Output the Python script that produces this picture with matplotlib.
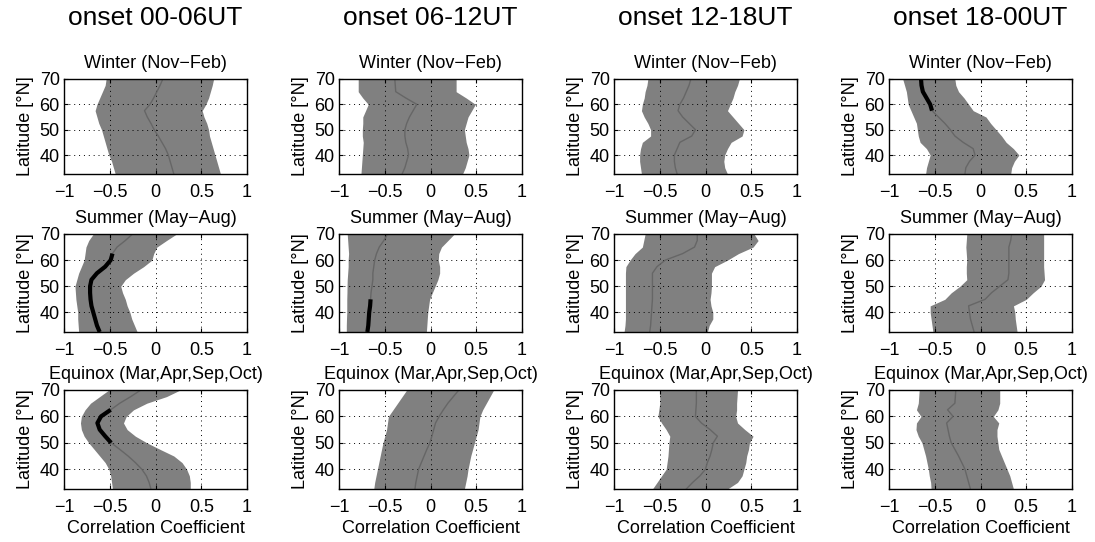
import numpy as np
from matplotlib import pyplot as plt

plt.rcParams['font.family'] = ['Liberation Sans', 'DejaVu Sans']

lat = [32.5, 35, 37.5, 40, 42.5, 45, 47.5, 50, 52.5, 55, 57.5, 60, 62.5, 65, 67.5, 70]

onsets = ['onset 00-06UT', 'onset 06-12UT', 'onset 12-18UT', 'onset 18-00UT']
seasons = ['Winter (Nov\u2212Feb)', 'Summer (May\u2212Aug)', 'Equinox (Mar,Apr,Sep,Oct)']

# winter
w0_lo = [-0.44, -0.46, -0.48, -0.51, -0.53, -0.55, -0.57, -0.59, -0.62, -0.64, -0.66, -0.64, -0.61, -0.58, -0.55, -0.54]
w0_md = [0.2, 0.18, 0.16, 0.14, 0.11, 0.07, 0.03, -0.015, -0.05, -0.09, -0.12, -0.06, -0.02, 0.015, 0.05, 0.08]
w0_hi = [0.71, 0.69, 0.67, 0.65, 0.63, 0.61, 0.59, 0.58, 0.56, 0.53, 0.51, 0.55, 0.58, 0.60, 0.62, 0.635]

w1_lo = [-0.76, -0.755, -0.75, -0.745, -0.74, -0.735, -0.745, -0.745, -0.74, -0.74, -0.71, -0.68, -0.74, -0.79, -0.79, -0.79]
w1_md = [-0.31, -0.28, -0.26, -0.24, -0.25, -0.27, -0.28, -0.28, -0.26, -0.23, -0.19, -0.15, -0.27, -0.38, -0.385, -0.39]
w1_hi = [0.35, 0.38, 0.40, 0.42, 0.41, 0.39, 0.38, 0.37, 0.39, 0.41, 0.45, 0.49, 0.39, 0.28, 0.28, 0.28]

w2_lo = [-0.70, -0.71, -0.72, -0.72, -0.71, -0.69, -0.60, -0.60, -0.63, -0.67, -0.70, -0.69, -0.67, -0.66, -0.64, -0.63]
w2_md = [-0.31, -0.33, -0.34, -0.34, -0.31, -0.28, -0.15, -0.11, -0.18, -0.25, -0.30, -0.28, -0.24, -0.21, -0.18, -0.16]
w2_hi = [0.24, 0.21, 0.20, 0.21, 0.24, 0.28, 0.40, 0.42, 0.36, 0.30, 0.24, 0.27, 0.30, 0.32, 0.35, 0.37]

w3_lo = [-0.60, -0.59, -0.57, -0.55, -0.59, -0.66, -0.68, -0.69, -0.70, -0.73, -0.76, -0.79, -0.80, -0.81, -0.83, -0.85]
w3_md = [-0.17, -0.16, -0.12, -0.06, -0.08, -0.19, -0.28, -0.33, -0.39, -0.46, -0.53, -0.55, -0.59, -0.63, -0.645, -0.65]
w3_hi = [0.33, 0.34, 0.37, 0.42, 0.36, 0.28, 0.23, 0.17, 0.11, 0.06, -0.08, -0.13, -0.18, -0.24, -0.27, -0.28]

# summer
s0_lo = [-0.84, -0.845, -0.85, -0.85, -0.86, -0.87, -0.875, -0.88, -0.86, -0.84, -0.81, -0.78, -0.77, -0.76, -0.73, -0.68]
s0_md = [-0.61, -0.64, -0.66, -0.68, -0.70, -0.71, -0.715, -0.715, -0.70, -0.64, -0.55, -0.49, -0.47, -0.42, -0.33, -0.25]
s0_hi = [-0.20, -0.23, -0.26, -0.28, -0.31, -0.33, -0.36, -0.38, -0.33, -0.24, -0.13, -0.04, -0.02, 0.015, 0.12, 0.23]

s1_lo = [-0.92, -0.92, -0.918, -0.915, -0.915, -0.915, -0.913, -0.912, -0.91, -0.905, -0.9, -0.9, -0.895, -0.9, -0.905, -0.91]
s1_md = [-0.69, -0.68, -0.675, -0.67, -0.66, -0.655, -0.65, -0.64, -0.63, -0.63, -0.62, -0.61, -0.59, -0.56, -0.51, -0.47]
s1_hi = [-0.045, -0.04, -0.035, -0.03, -0.02, -0.01, 0.02, 0.05, 0.08, 0.10, 0.10, 0.085, 0.09, 0.12, 0.19, 0.26]

s2_lo = [-0.89, -0.88, -0.875, -0.875, -0.875, -0.875, -0.875, -0.875, -0.875, -0.875, -0.87, -0.825, -0.77, -0.69, -0.675, -0.66]
s2_md = [-0.61, -0.60, -0.595, -0.59, -0.585, -0.58, -0.58, -0.58, -0.58, -0.58, -0.53, -0.44, -0.25, -0.12, -0.09, -0.09]
s2_hi = [0.02, 0.04, 0.08, 0.08, 0.06, 0.05, 0.06, 0.065, 0.065, 0.065, 0.10, 0.24, 0.36, 0.52, 0.575, 0.53]

s3_lo = [-0.52, -0.53, -0.54, -0.55, -0.55, -0.39, -0.32, -0.225, -0.15, -0.155, -0.155, -0.15, -0.155, -0.16, -0.155, -0.15]
s3_md = [-0.07, -0.09, -0.11, -0.12, -0.13, 0.05, 0.12, 0.21, 0.30, 0.31, 0.31, 0.31, 0.31, 0.31, 0.33, 0.34]
s3_hi = [0.40, 0.39, 0.38, 0.375, 0.36, 0.50, 0.575, 0.66, 0.70, 0.695, 0.69, 0.69, 0.69, 0.69, 0.69, 0.69]

# equinox
e0_lo = [-0.47, -0.48, -0.49, -0.51, -0.55, -0.61, -0.67, -0.73, -0.78, -0.81, -0.82, -0.81, -0.77, -0.71, -0.61, -0.51]
e0_md = [-0.05, -0.07, -0.10, -0.15, -0.22, -0.30, -0.39, -0.485, -0.55, -0.61, -0.635, -0.595, -0.49, -0.39, -0.27, -0.16]
e0_hi = [0.38, 0.38, 0.37, 0.34, 0.29, 0.20, 0.05, -0.095, -0.22, -0.31, -0.35, -0.32, -0.24, -0.095, 0.12, 0.27]

e1_lo = [-0.62, -0.61, -0.595, -0.58, -0.565, -0.55, -0.535, -0.52, -0.50, -0.48, -0.47, -0.46, -0.41, -0.36, -0.31, -0.26]
e1_md = [-0.17, -0.16, -0.145, -0.13, -0.10, -0.07, -0.04, -0.007, 0.015, 0.035, 0.055, 0.095, 0.14, 0.19, 0.25, 0.31]
e1_hi = [0.37, 0.385, 0.40, 0.41, 0.425, 0.44, 0.46, 0.48, 0.50, 0.52, 0.53, 0.54, 0.57, 0.61, 0.65, 0.69]

e2_lo = [-0.58, -0.53, -0.48, -0.43, -0.42, -0.41, -0.405, -0.40, -0.39, -0.43, -0.48, -0.52, -0.51, -0.50, -0.50, -0.50]
e2_md = [-0.21, -0.14, -0.06, 0.0, 0.02, 0.05, 0.07, 0.085, 0.13, 0.05, -0.045, -0.11, -0.105, -0.10, -0.10, -0.10]
e2_hi = [0.24, 0.35, 0.40, 0.42, 0.44, 0.45, 0.47, 0.48, 0.52, 0.43, 0.35, 0.33, 0.34, 0.34, 0.345, 0.35]

e3_lo = [-0.54, -0.545, -0.56, -0.57, -0.585, -0.60, -0.62, -0.64, -0.68, -0.705, -0.70, -0.65, -0.70, -0.68, -0.675, -0.67]
e3_md = [-0.11, -0.13, -0.15, -0.17, -0.205, -0.24, -0.28, -0.32, -0.34, -0.355, -0.37, -0.30, -0.36, -0.28, -0.275, -0.27]
e3_hi = [0.36, 0.34, 0.32, 0.29, 0.26, 0.23, 0.20, 0.19, 0.18, 0.18, 0.20, 0.14, 0.19, 0.21, 0.21, 0.21]

# latitude range where the median is significant (None = nowhere)
w_sig = [None, None, None, (57.5, 70)]
s_sig = [(32.5, 62.5), (32.5, 45), None, None]
e_sig = [(50, 62.5), None, None, None]

panels = [
    [(w0_lo, w0_md, w0_hi), (w1_lo, w1_md, w1_hi), (w2_lo, w2_md, w2_hi), (w3_lo, w3_md, w3_hi)],
    [(s0_lo, s0_md, s0_hi), (s1_lo, s1_md, s1_hi), (s2_lo, s2_md, s2_hi), (s3_lo, s3_md, s3_hi)],
    [(e0_lo, e0_md, e0_hi), (e1_lo, e1_md, e1_hi), (e2_lo, e2_md, e2_hi), (e3_lo, e3_md, e3_hi)],
]
sigs = [w_sig, s_sig, e_sig]

W, H = 1095, 542
fig = plt.figure(figsize=(W / 100, H / 100), dpi=100)

col_left = [64, 339, 614, 889]
col_w = 183
row_top = [79, 234, 390]
row_bot = [174, 332, 489]

y = np.array(lat)
for r in range(3):
    for c in range(4):
        ax = fig.add_axes([col_left[c] / W, 1 - row_bot[r] / H, col_w / W, (row_bot[r] - row_top[r]) / H])
        lo, md, hi = (np.array(a) for a in panels[r][c])
        ax.fill_betweenx(y, lo, hi, color='#808080', lw=0)
        ax.plot(md, y, color='#666666', lw=1.0)
        sig = sigs[r][c]
        if sig is not None:
            m = (y >= sig[0]) & (y <= sig[1])
            ax.plot(md[m], y[m], color='black', lw=3, solid_capstyle='butt')
        ax.set_xlim(-1, 1)
        ax.set_ylim(32.5, 70)
        ax.set_xticks([-1, -0.5, 0, 0.5, 1])
        ax.set_xticklabels(['\u22121', '\u22120.5', '0', '0.5', '1'])
        ax.set_yticks([40, 50, 60, 70])
        ax.grid(True, color='black', linestyle=(0, (1, 4)), linewidth=0.7)
        ax.tick_params(direction='in', top=True, right=True, length=3, labelsize=13)
        ax.tick_params(axis='x', pad=7)
        ax.tick_params(axis='y', pad=3)
        for s in ax.spines.values():
            s.set_linewidth(1.0)
        ax.set_ylabel('Latitude [\u00b0N]', fontsize=13, labelpad=4)
        ax.set_title(seasons[r], fontsize=13, pad=8)
        if r == 2:
            ax.set_xlabel('Correlation Coefficient', fontsize=13, labelpad=3)

for c in range(4):
    fig.text((col_left[c] + col_w / 2) / W, 1 - 18 / H, onsets[c], fontsize=19, ha='center', va='center')

fig.savefig('out.png', dpi=100)
